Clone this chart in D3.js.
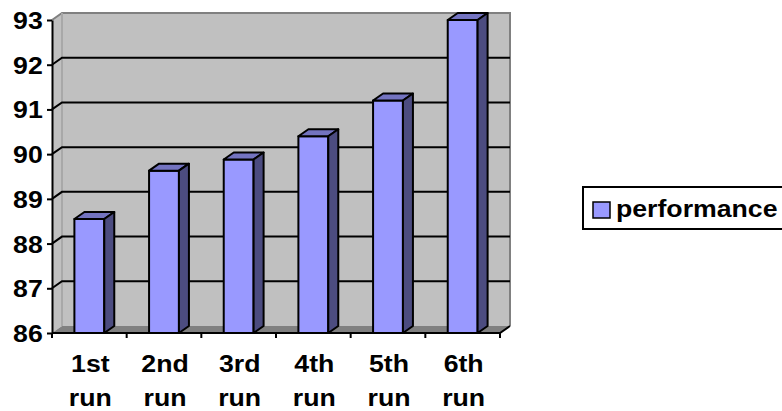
<!DOCTYPE html>
<html>
<head>
<meta charset="utf-8">
<script src="https://cdn.jsdelivr.net/npm/d3@7"></script>
<style>
  html, body { margin: 0; padding: 0; background: #ffffff; }
  svg { display: block; }
  text { font-family: "Liberation Sans", Arial, sans-serif; font-weight: bold; fill: #000; }
</style>
</head>
<body>
<svg id="chart" width="782" height="411"></svg>
<script>
// Chart data
const categories = ["1st run", "2nd run", "3rd run", "4th run", "5th run", "6th run"];
const performance = [88.55, 89.63, 89.88, 90.4, 91.2, 93.0];
const yTicks = [86, 87, 88, 89, 90, 91, 92, 93];
const seriesName = "performance";

(function () {
  const svg = d3.select("#chart");

  // Plot frame (front plane) and 3D depth offset
  const plotLeft = 52, plotRight = 500, plotTop = 20, plotBottom = 333;
  const dx = 10, dy = 7;
  const stretch = 1.16; // horizontal stretch of the text glyphs
  const fontSize = 23;

  const y = d3.scaleLinear().domain([86, 93]).range([plotBottom, plotTop]);
  const x = d3.scaleBand().domain(categories).range([plotLeft, plotRight]);
  const barW = x.bandwidth() / 2.5; // gap width 150%

  const wallFill = "#c0c0c0", floorFill = "#808080", edge = "#808080";
  const frontFill = "#9999ff", topFill = "#7373c0", sideFill = "#4c4c80";

  // Side wall
  svg.append("polygon")
    .attr("points", [[plotLeft, y(93)], [plotLeft + dx, y(93) - dy], [plotLeft + dx, y(86) - dy], [plotLeft, y(86)]].join(" "))
    .attr("fill", wallFill);

  // Back wall
  svg.append("rect")
    .attr("x", plotLeft + dx).attr("y", y(93) - dy)
    .attr("width", plotRight - plotLeft).attr("height", y(86) - y(93))
    .attr("fill", wallFill);

  // Floor
  svg.append("polygon")
    .attr("points", [[plotLeft, y(86)], [plotRight, y(86)], [plotRight + dx, y(86) - dy], [plotLeft + dx, y(86) - dy]].join(" "))
    .attr("fill", floorFill);

  // Wall edges
  const edges = svg.append("g").attr("fill", "none").attr("stroke", edge).attr("stroke-width", 2);
  edges.append("polyline")
    .attr("points", [[plotLeft, y(93)], [plotLeft + dx, y(93) - dy], [plotRight + dx, y(93) - dy], [plotRight + dx, y(86) - dy]].join(" "));
  edges.append("line")
    .attr("x1", plotLeft + dx).attr("x2", plotLeft + dx)
    .attr("y1", y(93) - dy).attr("y2", y(86) - dy)
    .attr("stroke", "#a8a8a8");

  // Gridlines on the back wall plus their diagonals across the side wall
  const inner = yTicks.filter(v => v > 86 && v < 93);
  const grid = svg.append("g").attr("stroke", "#000").attr("stroke-width", 2).attr("fill", "none");
  grid.selectAll("polyline").data(inner).join("polyline")
    .attr("points", v => [[plotLeft, y(v)], [plotLeft + dx, y(v) - dy], [plotRight + dx, y(v) - dy]].join(" "));

  // Bars (front, top, side faces)
  const bars = svg.append("g").attr("stroke", "#000").attr("stroke-width", 2).attr("stroke-linejoin", "round");
  const barData = categories.map((c, i) => ({ c, v: performance[i] }));
  const bx = d => x(d.c) + (x.bandwidth() - barW) / 2;
  bars.selectAll("rect.front").data(barData).join("rect")
    .attr("class", "front")
    .attr("x", bx).attr("y", d => y(d.v))
    .attr("width", barW).attr("height", d => y(86) - y(d.v))
    .attr("fill", frontFill);
  bars.selectAll("polygon.top").data(barData).join("polygon")
    .attr("class", "top")
    .attr("points", d => {
      const x0 = bx(d), x1 = x0 + barW, yt = y(d.v);
      return [[x0, yt], [x0 + dx, yt - dy], [x1 + dx, yt - dy], [x1, yt]].join(" ");
    })
    .attr("fill", topFill);
  bars.selectAll("polygon.side").data(barData).join("polygon")
    .attr("class", "side")
    .attr("points", d => {
      const x1 = bx(d) + barW, yt = y(d.v), yb = y(86);
      return [[x1, yt], [x1 + dx, yt - dy], [x1 + dx, yb - dy], [x1, yb]].join(" ");
    })
    .attr("fill", sideFill);

  // Y axis
  const yAxis = svg.append("g")
    .attr("transform", `translate(${plotLeft},0)`)
    .call(d3.axisLeft(y).tickValues(yTicks).tickSize(5).tickSizeOuter(0).tickFormat(d3.format("d")));
  yAxis.select(".domain").attr("stroke", "#000").attr("stroke-width", 2);
  yAxis.selectAll(".tick line").attr("stroke", "#000").attr("stroke-width", 2);
  yAxis.selectAll(".tick text")
    .attr("x", -8).attr("dy", "0.37em")
    .attr("transform", `scale(${stretch},1)`)
    .attr("fill", "#000")
    .style("font-size", fontSize + "px")
    .style("font-family", "'Liberation Sans', Arial, sans-serif")
    .style("font-weight", "bold");

  // X axis line with tick marks at category boundaries
  const xAxis = svg.append("g").attr("stroke", "#000").attr("stroke-width", 2);
  xAxis.append("polyline")
    .attr("fill", "none")
    .attr("points", [[plotLeft, y(86)], [plotRight, y(86)], [plotRight + dx, y(86) - dy]].join(" "));
  const bounds = categories.map(c => x(c)).concat([x.range()[1]]);
  xAxis.selectAll("line.tick").data(bounds).join("line")
    .attr("class", "tick")
    .attr("x1", d => d).attr("x2", d => d)
    .attr("y1", y(86)).attr("y2", y(86) + 5);

  // Category labels (two lines each)
  const labels = svg.append("g").style("font-size", fontSize + "px");
  labels.selectAll("text").data(categories).join("text")
    .attr("text-anchor", "middle")
    .attr("transform", c => `translate(${x(c) + x.bandwidth() / 2 + 1},372) scale(${stretch},1)`)
    .each(function (c) {
      const parts = c.split(" ");
      d3.select(this).selectAll("tspan").data(parts).join("tspan")
        .attr("x", 0).attr("dy", (p, i) => i === 0 ? 0 : 34)
        .text(p => p);
    });

  // Legend
  const legend = svg.append("g");
  legend.append("rect")
    .attr("x", 583).attr("y", 187).attr("width", 220).attr("height", 42)
    .attr("fill", "#fff").attr("stroke", "#000").attr("stroke-width", 2);
  legend.append("rect")
    .attr("x", 593).attr("y", 202).attr("width", 17).attr("height", 16)
    .attr("fill", frontFill).attr("stroke", "#000").attr("stroke-width", 1.5);
  legend.append("text")
    .attr("transform", `translate(616,217) scale(${stretch},1)`)
    .style("font-size", fontSize + "px")
    .text(seriesName);
})();
</script>
</body>
</html>
